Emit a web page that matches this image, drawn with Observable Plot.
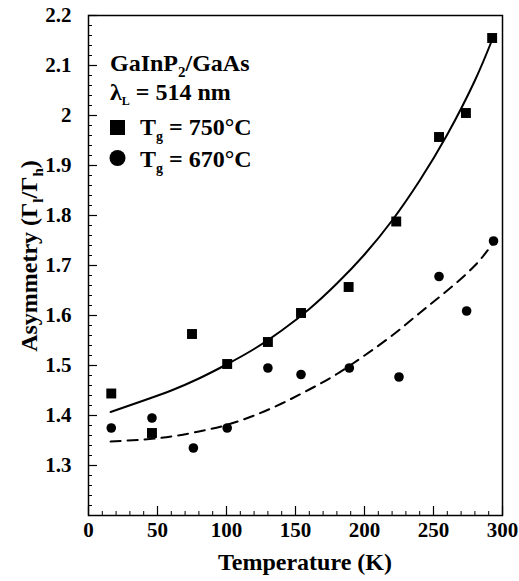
<!DOCTYPE html>
<html><head><meta charset="utf-8">
<script src="https://cdn.jsdelivr.net/npm/d3@7"></script>
<script src="https://cdn.jsdelivr.net/npm/@observablehq/plot@0.6"></script>
<style>body{margin:0;background:#fff} svg text{font-family:"Liberation Serif","Times New Roman",Times,"Noto Serif","DejaVu Serif",serif !important;}</style>
</head><body><div id="chart"></div>
<script>
// Data
const temps750 = [16.5, 46, 75, 100.5, 130, 154, 188.5, 223, 254, 273.5, 292.5];
const asym750  = [1.444, 1.365, 1.563, 1.503, 1.547, 1.605, 1.657, 1.788, 1.957, 2.005, 2.155];
const temps670 = [16.5, 46, 76, 100.5, 130, 154, 189, 225, 254, 274, 293.5];
const asym670  = [1.375, 1.395, 1.335, 1.375, 1.495, 1.482, 1.495, 1.477, 1.678, 1.609, 1.749];
const curveT750 = [16, 40, 60, 80, 100, 120, 140, 160, 180, 200, 220, 240, 260, 280, 293];
const curve750  = [1.407, 1.430, 1.450, 1.474, 1.502, 1.533, 1.570, 1.613, 1.664, 1.722, 1.790, 1.870, 1.962, 2.070, 2.155];
const curveT670 = [16, 40, 60, 80, 100, 120, 140, 160, 180, 200, 220, 240, 260, 280, 294];
const curve670  = [1.348, 1.352, 1.358, 1.368, 1.381, 1.400, 1.424, 1.452, 1.483, 1.520, 1.560, 1.605, 1.650, 1.700, 1.748];
const xMajor = [0, 50, 100, 150, 200, 250, 300];
const xMinor = [10,20,30,40,60,70,80,90,110,120,130,140,160,170,180,190,210,220,230,240,260,270,280,290];
const yMajor = [1.3, 1.4, 1.5, 1.6, 1.7, 1.8, 1.9, 2.0, 2.1, 2.2];
const yLabels = ["1.3","1.4","1.5","1.6","1.7","1.8","1.9","2","2.1","2.2"];
const yMinor = [1.22,1.24,1.26,1.28,1.32,1.34,1.36,1.38,1.42,1.44,1.46,1.48,1.52,1.54,1.56,1.58,1.62,1.64,1.66,1.68,1.72,1.74,1.76,1.78,1.82,1.84,1.86,1.88,1.92,1.94,1.96,1.98,2.02,2.04,2.06,2.08,2.12,2.14,2.16,2.18];

const squares = temps750.map((t, i) => ({t, a: asym750[i]}));
const circles = temps670.map((t, i) => ({t, a: asym670[i]}));
const fitA = curveT750.map((t, i) => ({t, a: curve750[i]}));
const fitB = curveT670.map((t, i) => ({t, a: curve670[i]}));

const serif = "'Liberation Serif', 'Times New Roman', Times, 'Noto Serif', 'DejaVu Serif', serif";

const chart = Plot.plot({
  width: 519, height: 581,
  marginLeft: 88, marginRight: 17, marginTop: 15, marginBottom: 66,
  style: {fontFamily: serif, fontWeight: "bold", fontSize: "20px", color: "black", background: "white"},
  x: {domain: [0, 300]},
  y: {domain: [1.2, 2.2]},
  marks: [
    Plot.axisX(xMajor, {tickSize: 0, tickPadding: 7, fontSize: 21, label: null}),
    Plot.axisX(xMajor, {tickSize: -9, text: null, label: null, strokeWidth: 1.2}),
    Plot.axisX(xMinor, {tickSize: -4, text: null, label: null}),
    Plot.axisY(yMajor, {tickSize: 0, tickPadding: 17, fontSize: 21, label: null,
      tickFormat: d => yLabels[yMajor.indexOf(d)]}),
    Plot.axisY(yMajor, {tickSize: -9, text: null, label: null, strokeWidth: 1.2}),
    Plot.axisY(yMinor, {tickSize: -4, text: null, label: null}),
    Plot.frame({stroke: "black", strokeWidth: 1.5}),
    Plot.line(fitA, {x: "t", y: "a", curve: "natural", stroke: "black", strokeWidth: 2}),
    Plot.line(fitB, {x: "t", y: "a", curve: "natural", stroke: "black", strokeWidth: 2, strokeDasharray: "10,7"}),
    Plot.dot(squares, {x: "t", y: "a", symbol: "square", r: 5.6, fill: "black"}),
    Plot.dot(circles, {x: "t", y: "a", symbol: "circle", r: 4.8, fill: "black"})
  ]
});
document.getElementById("chart").appendChild(chart);

// Axis titles and legend (real text with subscripts)
const svg = d3.select(chart);
const addText = (parts, opts = {}) => {
  const t = svg.append("text")
    .attr("transform", opts.transform)
    .style("font-family", serif).attr("font-weight", "bold")
    .attr("font-size", opts.size || 24).attr("fill", "black")
    .attr("text-anchor", opts.anchor || "start");
  let pending = 0;
  for (const p of parts) {
    if (typeof p === "string") {
      const s = t.append("tspan").text(p);
      if (pending) s.attr("dy", -pending);
      pending = 0;
    } else {
      t.append("tspan").attr("font-size", p.size || 14).attr("dy", p.dy).text(p.sub);
      pending = p.dy;
    }
  }
  return t;
};

addText(["Temperature (K)"], {anchor: "middle", transform: "translate(305,570)"});
addText(["Asymmetry (\u0393", {sub: "l", dy: 6, size: 15}, "/\u0393", {sub: "h", dy: 6, size: 15}, ")"],
  {anchor: "middle", transform: "translate(37,256) rotate(-90)"});

addText(["GaInP", {sub: "2", dy: 6, size: 15}, "/GaAs"], {transform: "translate(110,71)"});
addText(["\u03BB", {sub: "L", dy: 5, size: 12}, " = 514 nm"], {transform: "translate(110,100)"});
addText(["T", {sub: "g", dy: 6, size: 14}, " = 750\u00B0C"], {transform: "translate(140,135)"});
addText(["T", {sub: "g", dy: 6, size: 14}, " = 670\u00B0C"], {transform: "translate(140,167)"});
svg.append("rect").attr("x", 110).attr("y", 120).attr("width", 15).attr("height", 15).attr("fill", "black");
svg.append("circle").attr("cx", 117.5).attr("cy", 158).attr("r", 8).attr("fill", "black");
</script>
</body></html>
